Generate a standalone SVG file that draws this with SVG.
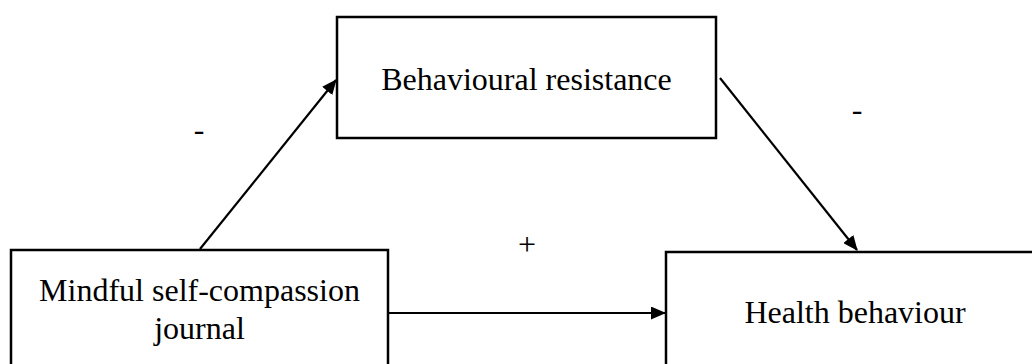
<svg xmlns="http://www.w3.org/2000/svg" width="1032" height="364" viewBox="0 0 1032 364">
<style>
.box{fill:#fff;stroke:#000;stroke-width:2.5}
.t{font-family:"Liberation Serif","Times New Roman",serif;font-size:32px;fill:#000;text-anchor:middle}
.c{stroke:#000;stroke-width:2.2;fill:none;marker-end:url(#ah)}
</style>
<defs>
<marker id="ah" markerUnits="userSpaceOnUse" markerWidth="15" markerHeight="13" viewBox="0 0 15 13" refX="14" refY="6.5" orient="auto">
<path d="M0,0 L15,6.5 L0,13 z" fill="#000"/>
</marker>
</defs>
<rect width="1032" height="364" fill="#fff"/>
<g id="connectors">
<line class="c" x1="200" y1="249" x2="336" y2="80"/>
<line class="c" x1="720" y1="78" x2="857" y2="250"/>
<line class="c" x1="389" y1="313" x2="665" y2="313"/>
</g>
<g id="node-resistance">
<rect class="box" x="337" y="17" width="379" height="121"/>
<text class="t" x="526.5" y="90">Behavioural resistance</text>
</g>
<g id="node-journal">
<rect class="box" x="11" y="250" width="377" height="130"/>
<text class="t" x="199.5" y="301">Mindful self-compassion</text>
<text class="t" x="199.5" y="339">journal</text>
</g>
<g id="node-health">
<rect class="box" x="666" y="252" width="380" height="130"/>
<text class="t" x="855" y="323">Health behaviour</text>
</g>
<g id="labels">
<text class="t" x="199" y="140">-</text>
<text class="t" x="857" y="120">-</text>
<text class="t" x="527" y="255">+</text>
</g>
</svg>
